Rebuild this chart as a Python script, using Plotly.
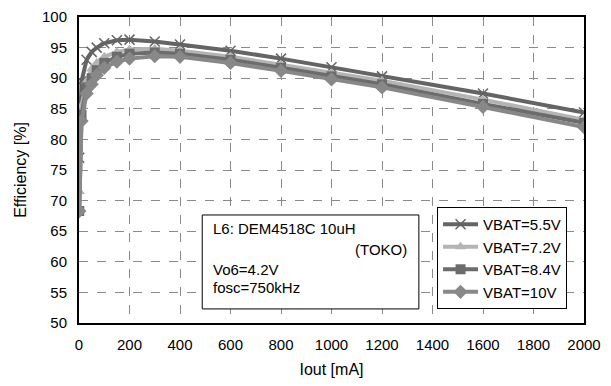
import plotly.graph_objs as go

# Load current [mA]
iout = [1, 10, 30, 50, 70, 100, 150, 200, 300, 400, 600, 800, 1000, 1200, 1600, 2000]

# Efficiency [%] per battery voltage
eff_55 = [77.0, 89.5, 93.0, 94.3, 95.0, 95.7, 96.2, 96.3, 96.0, 95.5, 94.5, 93.2, 91.8, 90.3, 87.5, 84.4]
eff_72 = [71.5, 85.5, 89.5, 91.5, 92.5, 93.5, 94.3, 94.7, 94.8, 94.5, 93.5, 92.2, 90.8, 89.6, 86.5, 83.2]
eff_84 = [68.3, 84.0, 88.5, 90.0, 91.3, 92.5, 93.5, 94.0, 94.2, 94.0, 93.0, 91.7, 90.3, 89.0, 85.8, 82.7]
eff_10 = [68.3, 83.0, 87.5, 89.0, 90.5, 91.7, 92.7, 93.2, 93.6, 93.5, 92.5, 91.2, 89.8, 88.5, 85.3, 82.0]

names = ['VBAT=5.5V', 'VBAT=7.2V', 'VBAT=8.4V', 'VBAT=10V']
series = [eff_55, eff_72, eff_84, eff_10]
colors = ['#646464', '#b4b4b4', '#6c6c6c', '#888888']
symbols = ['x-thin-open', 'triangle-up', 'square', 'diamond']
msizes = [10, 10, 10, 11]

font = 'Arial, Liberation Sans, sans-serif'

fig = go.Figure()
for i in range(len(series)):
    mk = dict(symbol=symbols[i], size=msizes[i], color=colors[i])
    if symbols[i] == 'x-thin-open':
        mk['line'] = dict(width=1.5, color=colors[i])
    fig.add_trace(
        go.Scatter(
            x=iout,
            y=series[i],
            name=names[i],
            mode='lines+markers',
            line=dict(color=colors[i], width=4),
            marker=mk,
            legendgroup=names[i],
        )
    )

# Axes (white outside ticks just push the labels away from the frame)
fig.update_xaxes(
    range=[0, 2000], dtick=200, automargin=False, ticklabeloverflow='allow',
    showgrid=True, gridcolor='#8a8a8a', griddash='dash', gridwidth=1,
    showline=True, linecolor='black', linewidth=2, mirror=True,
    zeroline=False, ticks='outside', ticklen=7, tickcolor='white',
    tickfont=dict(size=15, color='black', family=font),
    title=dict(text='Iout [mA]', font=dict(size=16, color='black', family=font), standoff=16),
)
fig.update_yaxes(
    range=[50, 100], dtick=5, automargin=False, ticklabeloverflow='allow',
    showgrid=True, gridcolor='#8a8a8a', griddash='dash', gridwidth=1,
    showline=True, linecolor='black', linewidth=2, mirror=True,
    zeroline=False, ticks='outside', ticklen=7, tickcolor='white',
    tickfont=dict(size=15, color='black', family=font),
    title=dict(text='Efficiency [%]', font=dict(size=16, color='black', family=font), standoff=11),
)

# Condition box
fig.add_shape(type='rect', xref='paper', yref='paper',
              x0=0.244, x1=0.673, y0=0.046, y1=0.353,
              line=dict(color='black', width=1), fillcolor='white', layer='above')
txt = [
    ('L6: DEM4518C 10uH', 0.262, 0.31, 'left'),
    ('(TOKO)', 0.653, 0.24, 'right'),
    ('Vo6=4.2V', 0.262, 0.174, 'left'),
    ('fosc=750kHz', 0.262, 0.115, 'left'),
]
for t, x, y, xa in txt:
    fig.add_annotation(text=t, x=x, y=y, xref='paper', yref='paper',
                       xanchor=xa, yanchor='middle', showarrow=False,
                       font=dict(size=15, color='black', family=font))

# the page body adds an 8px margin, so the figure is made a bit smaller
fig.update_layout(
    width=595, height=370,
    margin=dict(l=71, r=19, t=9, b=55),
    plot_bgcolor='white', paper_bgcolor='white',
    font=dict(family=font, color='black'),
    legend=dict(
        x=0.709, y=0.379, xanchor='left', yanchor='top',
        bgcolor='white', bordercolor='black', borderwidth=1,
        font=dict(size=15, color='black', family=font),
        tracegroupgap=0, itemwidth=35,
    ),
    showlegend=True,
)

fig.write_html('out.html')
